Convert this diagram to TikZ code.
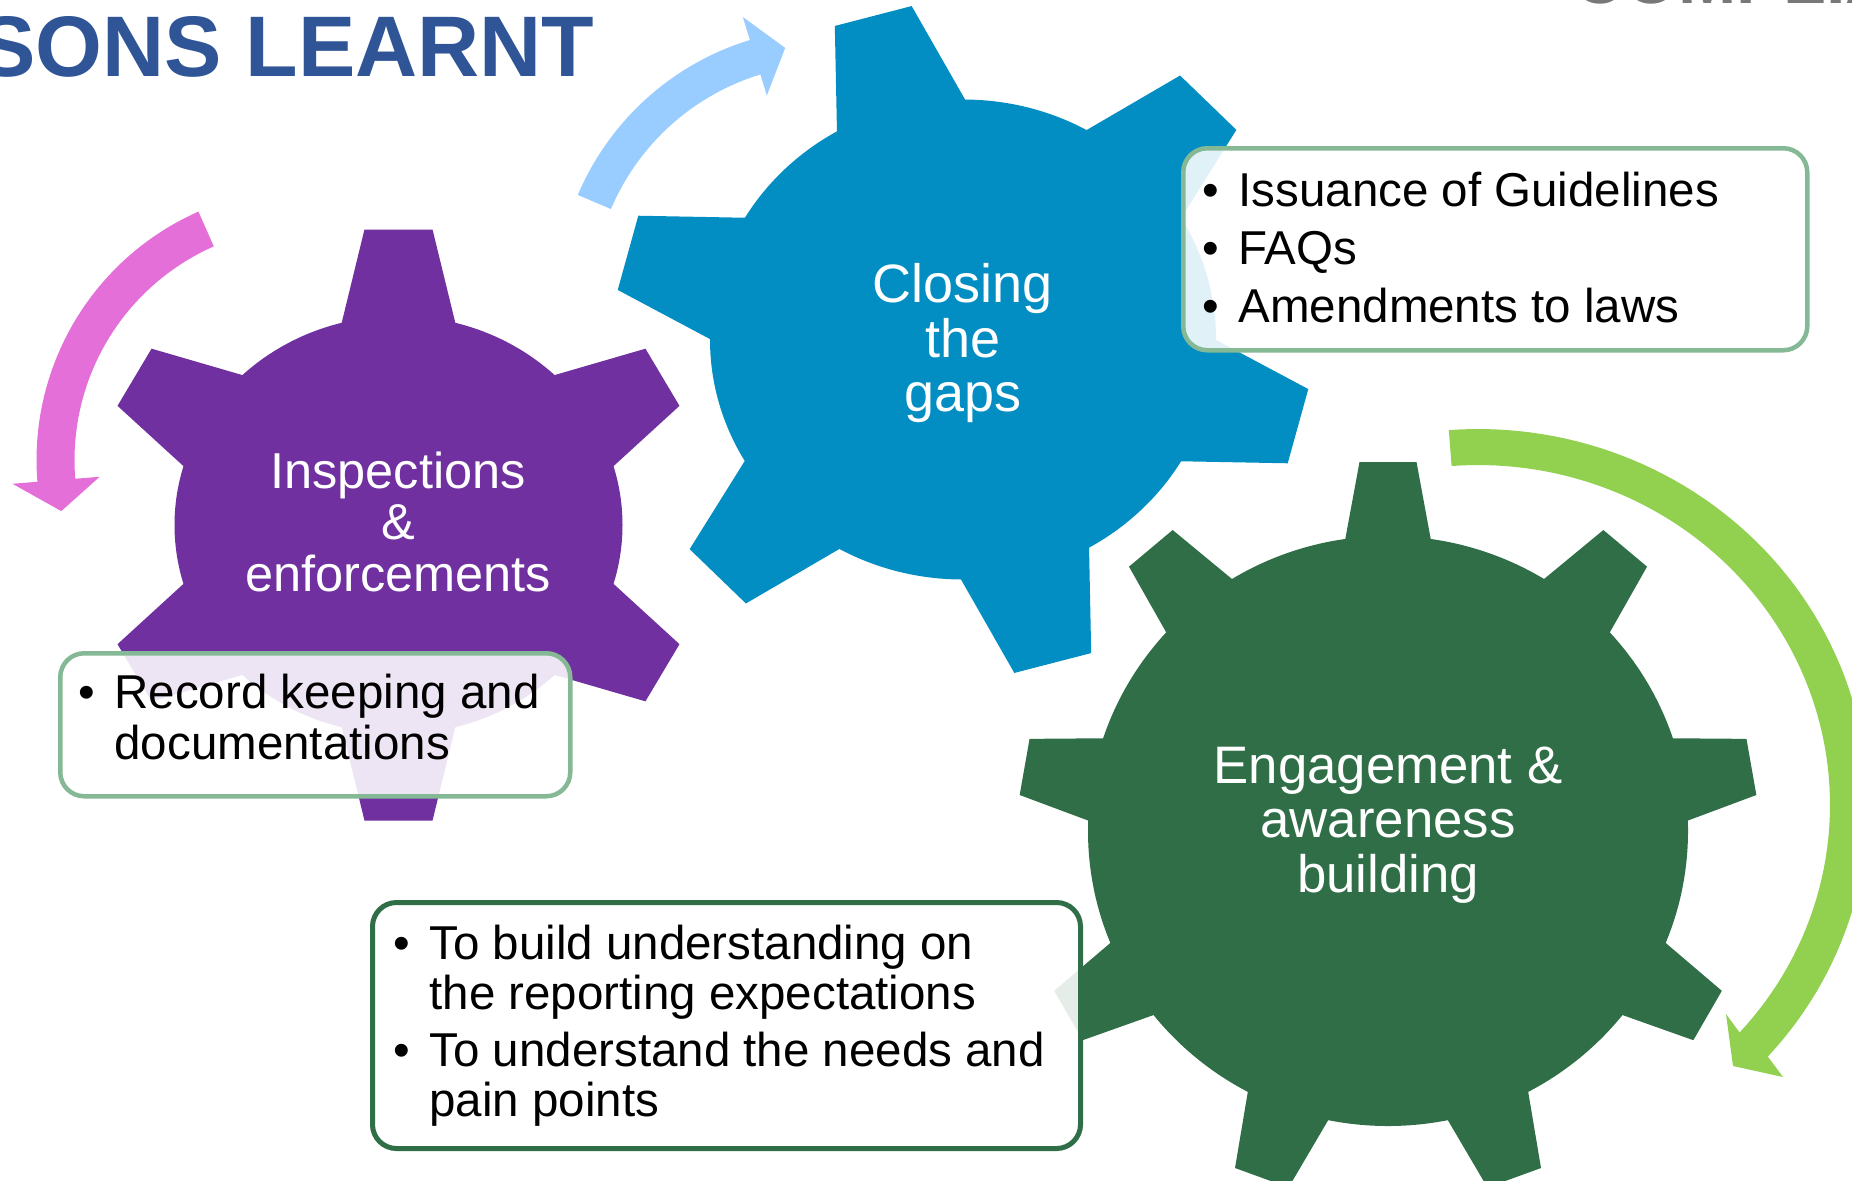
\documentclass[tikz,border=0pt]{standalone}
\usepackage{fontspec}
\setmainfont{Liberation Sans}
\definecolor{gpurple}{RGB}{112,48,160}
\definecolor{gblue}{RGB}{2,142,194}
\definecolor{ggreen}{RGB}{47,110,70}
\definecolor{apink}{RGB}{228,111,216}
\definecolor{ablue}{RGB}{153,204,255}
\definecolor{agreen}{RGB}{146,208,80}
\definecolor{titleblue}{RGB}{47,85,151}
\definecolor{titlegray}{RGB}{120,120,120}
\definecolor{boxgreen}{RGB}{133,185,150}
\tikzset{
  gearlabel/.style={anchor=base, inner sep=0pt, text=white},
  boxtext/.style={anchor=base west, inner sep=0pt, text=black, font=\fontsize{19pt}{20pt}\selectfont},
  notebox/.style={draw=boxgreen, line width=1.8pt, rounded corners=9.6pt, fill=white, fill opacity=0.88, draw opacity=1, anchor=north west, inner sep=0pt},
  darkbox/.style={notebox, draw=ggreen, line width=2pt},
}
\begin{document}
\begin{tikzpicture}[x=0.4pt, y=-0.4pt]
\useasboundingbox (0,0) rectangle (1852,1180);
\fill[white] (0,0) rectangle (1852,1180);

% titles (cut by the page edges)
\node[anchor=base east, inner sep=0pt, text=titleblue, font=\bfseries\fontsize{34.4pt}{36pt}\selectfont] (title) at (595,76) {SONS LEARNT};
\node[anchor=base west, inner sep=0pt, text=titlegray, font=\bfseries\fontsize{28pt}{30pt}\selectfont] (title2) at (1573,3) {COMPLIANCE};

% arrows
\fill[ablue] plot[domain=-157:-107, samples=30] ({830+274*cos(\x)},{302+274*sin(\x)})
  -- ({830+298*cos(-107)},{302+298*sin(-107)})
  -- ({830+258*cos(-100)},{302+258*sin(-100)})
  -- ({830+216*cos(-107)},{302+216*sin(-107)})
  -- plot[domain=-107:-157, samples=30] ({830+238*cos(\x)},{302+238*sin(\x)}) -- cycle;
\fill[apink] plot[domain=-113.8:-184.6, samples=40] ({308+271.5*cos(\x)},{460+271.5*sin(\x)})
  -- ({308+296.5*cos(-184.6)},{460+296.5*sin(-184.6)})
  -- ({308+252*cos(-191.7)},{460+252*sin(-191.7)})
  -- ({308+209*cos(-184.6)},{460+209*sin(-184.6)})
  -- plot[domain=-184.6:-113.8, samples=40] ({308+233.5*cos(\x)},{460+233.5*sin(\x)}) -- cycle;
\fill[agreen] plot[domain=-94.3:42, samples=80] ({1478+390*cos(\x)},{805+376*sin(\x)})
  -- (1783,1077) -- (1733,1066) -- (1726,1014)
  -- plot[domain=42:-94.3, samples=80] ({1478+352*cos(\x)},{805+340*sin(\x)}) -- cycle;

% purple gear
\fill[gpurple] (398.5,525) ellipse [x radius=224, y radius=209];
\begin{scope}[shift={(398.5,525)}, xscale=1.016, yscale=0.985]
  \foreach \a in {90,30,-30,-90,-150,-210}
    \fill[gpurple, rotate=\a] (150,-69) -- (300,-33.5) -- (300,33.5) -- (150,69) -- cycle;
\end{scope}
% blue gear
\fill[gblue] (963,339.5) ellipse [x radius=253, y radius=240];
\begin{scope}[shift={(963,339.5)}, xscale=1.02, yscale=0.985]
  \foreach \a in {-15,-75,-135,-195,-255,-315}
    \fill[gblue, rotate=\a] (170,-81) -- (340,-39) -- (340,39) -- (170,81) -- cycle;
\end{scope}
% green gear
\fill[ggreen] (1388,831) ellipse [x radius=300, y radius=295];
\begin{scope}[shift={(1388,831)}]
  \foreach \a in {90,50,10,-30,-70,-110,-150,-190,-230}
    \fill[ggreen, rotate=\a] (220,-56) -- (369,-28.5) -- (369,28.5) -- (220,56) -- cycle;
\end{scope}

% gear labels
\begin{scope}[every node/.style={gearlabel, font=\fontsize{21.6pt}{22pt}\selectfont}]
\node (c1) at (963,302.5) {Closing};
\node (c2) at (963,357) {the};
\node (c3) at (963,411.5) {gaps};
\end{scope}
\begin{scope}[every node/.style={gearlabel, font=\fontsize{20.2pt}{21pt}\selectfont}]
\node (i1) at (398,488) {Inspections};
\node (i2) at (398,539.5) {\&};
\node (i3) at (398,591) {enforcements};
\end{scope}
\begin{scope}[every node/.style={gearlabel, font=\fontsize{21.1pt}{22pt}\selectfont}]
\node (e1) at (1388,783) {Engagement \&};
\node (e2) at (1388,837.5) {awareness};
\node (e3) at (1388,892) {building};
\end{scope}

% boxes
\node[notebox, minimum width=624*0.4pt, minimum height=202*0.4pt] (boxA) at (1181,146) {};
\node[notebox, minimum width=510*0.4pt, minimum height=143*0.4pt] (boxB) at (58,651) {};
\node[darkbox, minimum width=708*0.4pt, minimum height=246*0.4pt] (boxC) at (370,900) {};

% box texts
\node[boxtext] (a1b) at (1201.5,206) {•};
\node[boxtext] (a1) at (1238,206) {Issuance of Guidelines};
\node[boxtext] (a2b) at (1201.5,264) {•};
\node[boxtext] (a2) at (1238,264) {FAQs};
\node[boxtext] (a3b) at (1201.5,322) {•};
\node[boxtext] (a3) at (1238,322) {Amendments to laws};

\node[boxtext] (b1b) at (77.5,708.5) {•};
\node[boxtext] (b1) at (114,708.5) {Record keeping and};
\node[boxtext] (b2) at (114,759) {documentations};

\node[boxtext] (c1b) at (392.5,959) {•};
\node[boxtext] (cl1) at (429,959) {To build understanding on};
\node[boxtext] (cl2) at (429,1009) {the reporting expectations};
\node[boxtext] (c2b) at (392.5,1066) {•};
\node[boxtext] (cl3) at (429,1066) {To understand the needs and};
\node[boxtext] (cl4) at (429,1116) {pain points};
\end{tikzpicture}
\end{document}
